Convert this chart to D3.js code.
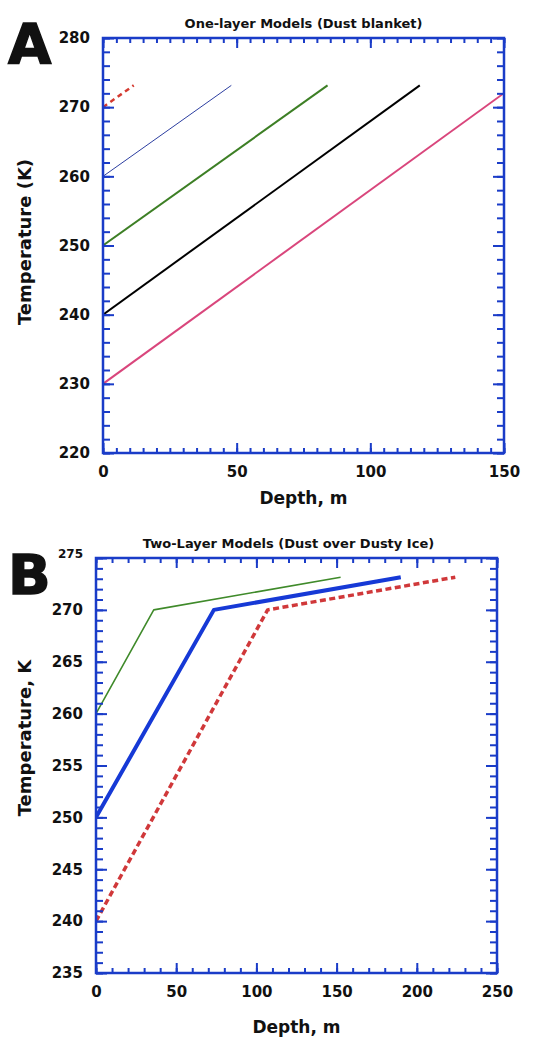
<!DOCTYPE html>
<html>
<head>
  <meta charset="utf-8">
  <title>One-layer and Two-Layer Models</title>
  <script src="https://cdn.jsdelivr.net/npm/d3@7"></script>
  <style>
    body { margin: 0; background: #fff; }
    text { font-family: "DejaVu Sans", Verdana, sans-serif; fill: #111; }
    .tick line { stroke: #1a3cc8; stroke-width: 2; }
    .tick text { font-weight: bold; font-size: 15px; fill: #111; }
  </style>
</head>
<body>
  <script>
    // Panel A: one-layer models, [depth m, temperature K]
    const oneLayerRed = [[0, 270], [11.5, 273.15]];
    const oneLayerBlue = [[0, 260], [48, 273.15]];
    const oneLayerGreen = [[0, 250], [84, 273.15]];
    const oneLayerBlack = [[0, 240], [118.5, 273.15]];
    const oneLayerPink = [[0, 230], [154, 273.15]]; // runs past the 150 m edge

    // Panel B: two-layer models
    const twoLayerGreen = [[0, 260], [36, 270], [152.5, 273.15]];
    const twoLayerBlue = [[0, 250], [73.5, 270], [190, 273.15]];
    const twoLayerRed = [[0, 240], [107, 270], [224, 273.15]];

    // tick labels
    const aXTicks = [0, 50, 100, 150];
    const aYTicks = [220, 230, 240, 250, 260, 270, 280];
    const bXTicks = [0, 50, 100, 150, 200, 250];
    const bYTicks = [235, 240, 245, 250, 255, 260, 265, 270, 275];

    const W = 541, H = 1038;
    const axisColor = "#1a3cc8";

    const svg = d3.select("body").append("svg")
      .attr("width", W)
      .attr("height", H);

    function drawPanel(p) {
      const g = svg.append("g");
      const x = d3.scaleLinear().domain(p.xDomain).range([p.left, p.right]);
      const y = d3.scaleLinear().domain(p.yDomain).range([p.bottom, p.top]);

      const clipId = "clip-" + p.letter;
      svg.append("clipPath").attr("id", clipId)
        .append("rect")
        .attr("x", p.left).attr("y", p.top)
        .attr("width", p.right - p.left).attr("height", p.bottom - p.top);

      const line = d3.line().x(d => x(d[0])).y(d => y(d[1]));

      g.append("g").attr("clip-path", "url(#" + clipId + ")")
        .selectAll("path")
        .data(p.series)
        .join("path")
        .attr("d", d => line(d.values))
        .attr("fill", "none")
        .attr("stroke", d => d.color)
        .attr("stroke-width", d => d.width)
        .attr("stroke-dasharray", d => d.dash || null)
        .attr("stroke-linejoin", "round");

      const xMinor = d3.range(p.xDomain[0], p.xDomain[1] + 0.001, p.xMinor);
      const yMinor = d3.range(p.yDomain[0], p.yDomain[1] + 0.001, p.yMinor);
      const noDomain = s => s.select(".domain").remove();

      // minor ticks on all four sides
      g.append("g").attr("transform", `translate(0,${p.bottom})`)
        .call(d3.axisBottom(x).tickValues(xMinor).tickSize(-5).tickFormat("")).call(noDomain);
      g.append("g").attr("transform", `translate(0,${p.top})`)
        .call(d3.axisTop(x).tickValues(xMinor).tickSize(-5).tickFormat("")).call(noDomain);
      g.append("g").attr("transform", `translate(${p.left},0)`)
        .call(d3.axisLeft(y).tickValues(yMinor).tickSize(-7).tickFormat("")).call(noDomain);
      g.append("g").attr("transform", `translate(${p.right},0)`)
        .call(d3.axisRight(y).tickValues(yMinor).tickSize(-7).tickFormat("")).call(noDomain);

      // major ticks, labelled bottom and left
      g.append("g").attr("transform", `translate(0,${p.bottom})`)
        .call(d3.axisBottom(x).tickValues(p.xTicks).tickSize(-10).tickPadding(13)).call(noDomain);
      g.append("g").attr("transform", `translate(0,${p.top})`)
        .call(d3.axisTop(x).tickValues(p.xTicks).tickSize(-10).tickFormat("")).call(noDomain);
      const yl = g.append("g").attr("transform", `translate(${p.left},0)`)
        .call(d3.axisLeft(y).tickValues(p.yTicks).tickSize(-11).tickPadding(13)).call(noDomain);
      g.append("g").attr("transform", `translate(${p.right},0)`)
        .call(d3.axisRight(y).tickValues(p.yTicks).tickSize(-11).tickFormat("")).call(noDomain);

      if (p.smallTop) {
        yl.selectAll(".tick text")
          .filter(d => d === p.yDomain[1])
          .style("font-size", "12px")
          .attr("dy", "-0.05em");
      }

      g.append("rect")
        .attr("x", p.left).attr("y", p.top)
        .attr("width", p.right - p.left).attr("height", p.bottom - p.top)
        .attr("fill", "none")
        .attr("stroke", axisColor)
        .attr("stroke-width", 2.5);

      g.append("text")
        .attr("x", (p.left + p.right) / 2 + p.titleDx)
        .attr("y", p.top - 10)
        .attr("text-anchor", "middle")
        .style("font-size", "13px")
        .style("font-weight", "bold")
        .text(p.title);

      g.append("text")
        .attr("x", (p.left + p.right) / 2)
        .attr("y", p.bottom + p.xLabelDy)
        .attr("text-anchor", "middle")
        .style("font-size", "17px")
        .style("font-weight", "bold")
        .text(p.xLabel);

      g.append("text")
        .attr("transform", `translate(${p.yLabelX},${p.yLabelY}) rotate(-90)`)
        .attr("text-anchor", "middle")
        .style("font-size", "18px")
        .style("font-weight", "bold")
        .text(p.yLabel);

      g.append("text")
        .attr("x", p.letterX)
        .attr("y", p.letterY)
        .style("font-size", "56px")
        .style("font-weight", "bold")
        .style("stroke", "#111")
        .style("stroke-width", 1.5)
        .text(p.letter);
    }

    drawPanel({
      letter: "A", letterX: 8, letterY: 63,
      left: 103, right: 504, top: 38, bottom: 453,
      xDomain: [0, 150], yDomain: [220, 280],
      xMinor: 5, yMinor: 2,
      xTicks: aXTicks, yTicks: aYTicks,
      title: "One-layer Models (Dust blanket)", titleDx: 0,
      xLabel: "Depth, m", xLabelDy: 51,
      yLabel: "Temperature (K)", yLabelX: 31, yLabelY: 242,
      series: [
        { values: oneLayerPink, color: "#d9467c", width: 2 },
        { values: oneLayerBlack, color: "#000000", width: 2 },
        { values: oneLayerGreen, color: "#3d7f25", width: 2 },
        { values: oneLayerBlue, color: "#2c3ea0", width: 1 },
        { values: oneLayerRed, color: "#d43a30", width: 2.5, dash: "5,4" }
      ]
    });

    drawPanel({
      letter: "B", letterX: 8, letterY: 594,
      left: 96, right: 497, top: 558, bottom: 973,
      xDomain: [0, 250], yDomain: [235, 275],
      xMinor: 10, yMinor: 1,
      xTicks: bXTicks, yTicks: bYTicks, smallTop: true,
      title: "Two-Layer Models (Dust over Dusty Ice)", titleDx: -8,
      xLabel: "Depth, m", xLabelDy: 60,
      yLabel: "Temperature, K", yLabelX: 31, yLabelY: 738,
      series: [
        { values: twoLayerGreen, color: "#3f8a2a", width: 1.6 },
        { values: twoLayerBlue, color: "#1639d6", width: 4 },
        { values: twoLayerRed, color: "#d0383a", width: 3.5, dash: "6,3.5" }
      ]
    });
  </script>
</body>
</html>
